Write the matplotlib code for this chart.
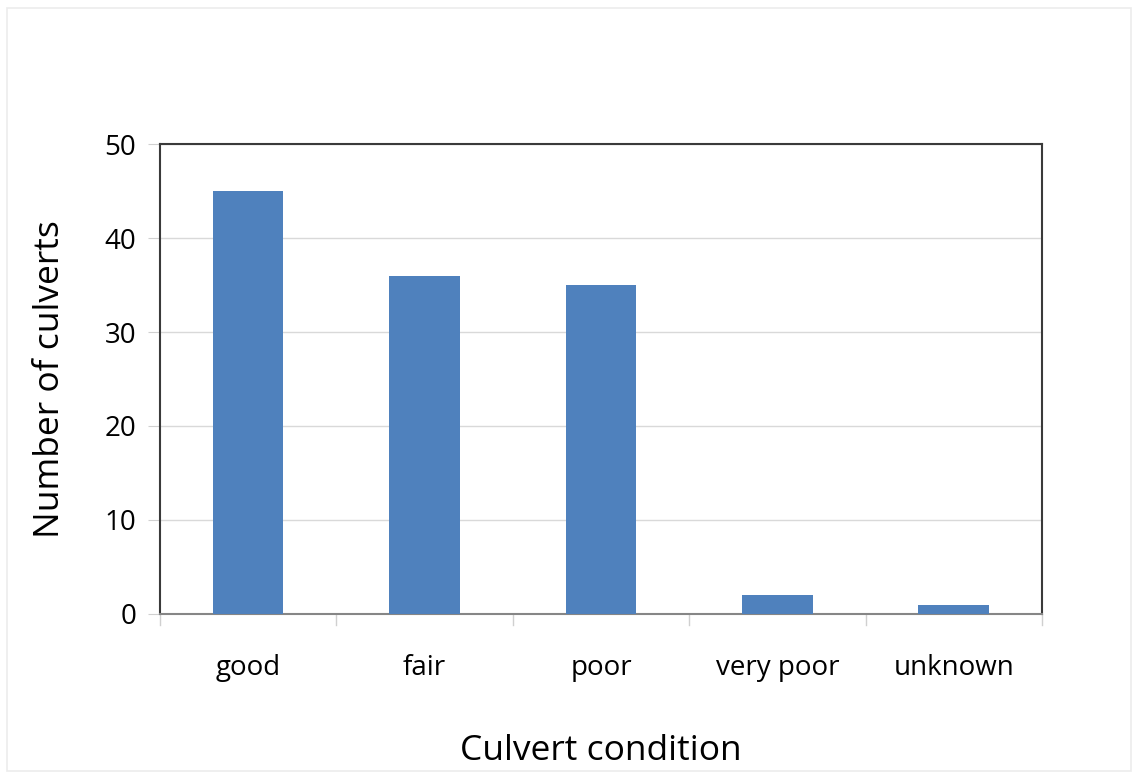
import matplotlib.pyplot as plt
from matplotlib.patches import Rectangle

# culvert counts by condition
conditions = ['good', 'fair', 'poor', 'very poor', 'unknown']
counts = [45, 36, 35, 2, 1]
y_ticks = [0, 10, 20, 30, 40, 50]

plt.rcParams['font.family'] = ['Open Sans', 'DejaVu Sans']

fig = plt.figure(figsize=(11.38, 7.76), dpi=100)
ax = fig.add_axes([0.1406, 0.2088, 0.775, 0.6056])

# thin frame around the whole chart
fig.patches.append(Rectangle((0.006, 0.006), 0.988, 0.984, transform=fig.transFigure,
                             fill=False, edgecolor='#ececec', linewidth=1.2))

x = range(len(conditions))
ax.bar(x, counts, width=0.4, color='#4F81BD', zorder=3)

ax.set_xlim(-0.5, len(conditions) - 0.5)
ax.set_ylim(0, 50)
ax.set_yticks(y_ticks)
ax.set_yticklabels([str(t) for t in y_ticks], fontsize=20)
ax.set_xticks(list(x))
ax.set_xticklabels(conditions, fontsize=20)
ax.tick_params(axis='x', length=0, pad=29)
ax.tick_params(axis='y', length=9, color='#d0d0d0', pad=8)

# category separators below the axis
for b in [i - 0.5 for i in range(len(conditions) + 1)]:
    ax.plot([b, b], [0, -1.2], color='#d0d0d0', lw=1, clip_on=False)

ax.grid(axis='y', color='#d9d9d9', linewidth=1, zorder=0)
for side in ['left', 'top', 'right']:
    ax.spines[side].set_color('#3a3a3a')
    ax.spines[side].set_linewidth(1.5)
ax.spines['bottom'].set_color('#868686')
ax.spines['bottom'].set_linewidth(1.5)

ax.set_xlabel('Culvert condition', fontsize=25.5, labelpad=37)
ax.set_ylabel('Number of culverts', fontsize=25.5, labelpad=27)

fig.savefig('out.png', dpi=100)
